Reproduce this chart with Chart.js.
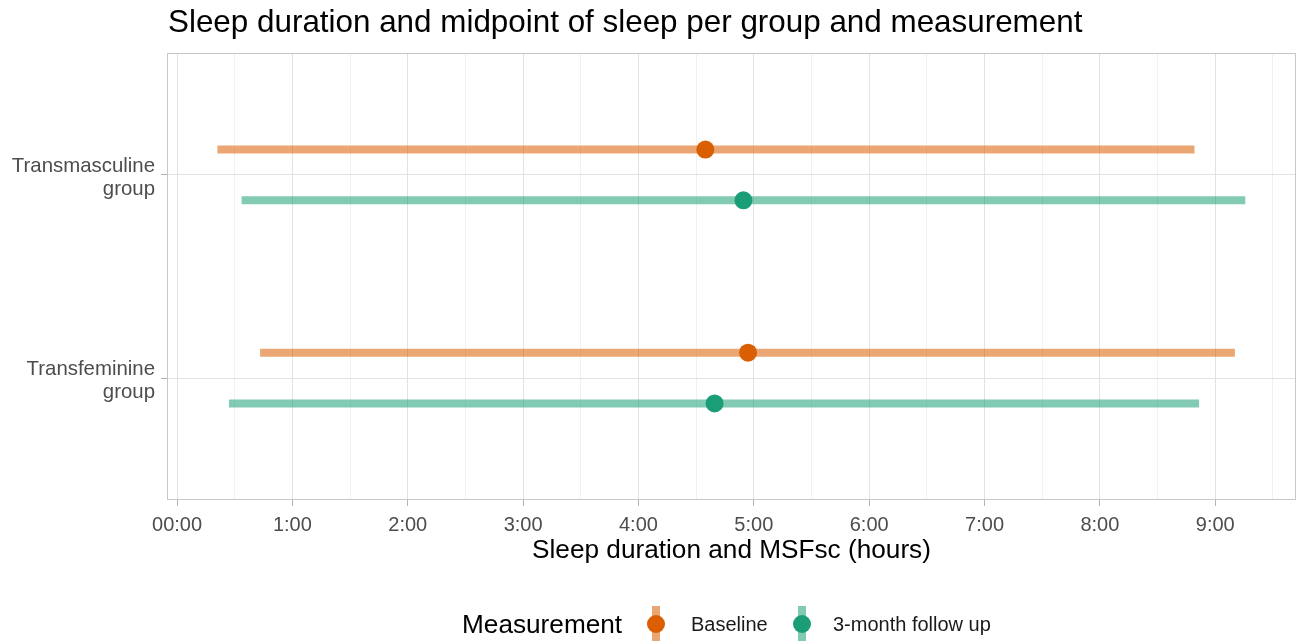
<!DOCTYPE html>
<html>
<head>
<meta charset="utf-8">
<script src="https://cdn.jsdelivr.net/npm/chart.js@4.4.1/dist/chart.umd.min.js"></script>
<style>
  html, body { margin: 0; padding: 0; background: #fff; }
  #wrap { width: 1300px; height: 641px; position: relative; }
</style>
</head>
<body>
<div id="wrap"><canvas id="sleepChart"></canvas></div>
<script>
const ctx = document.getElementById('sleepChart').getContext('2d');

// values (hours)
const groups = ['Transmasculine group', 'Transfeminine group'];
const measurements = ['Baseline', '3-month follow up'];
const baselineStart = [0.35, 0.72];
const baselineEnd = [8.82, 9.17];
const baselineMid = [4.58, 4.95];
const followStart = [0.56, 0.45];
const followEnd = [9.26, 8.86];
const followMid = [4.91, 4.66];
const tickLabels = ['00:00', '1:00', '2:00', '3:00', '4:00', '5:00', '6:00', '7:00', '8:00', '9:00'];

const FONT = "'Liberation Sans', Arial, sans-serif";
const dotColors = ['#D95F02', '#1B9E77'];
const lineColors = ['rgba(217,95,2,0.55)', 'rgba(27,158,119,0.55)'];
const dodge = [-0.125, 0.125];

const starts = [baselineStart, followStart];
const ends = [baselineEnd, followEnd];
const mids = [baselineMid, followMid];

// one segment per group and measurement
const datasets = [];
measurements.forEach((m, mi) => {
  groups.forEach((g, gi) => {
    const y = gi + 1 + dodge[mi];
    datasets.push({
      label: m + ' ' + g,
      data: [{ x: starts[mi][gi], y: y }, { x: ends[mi][gi], y: y }],
      showLine: true,
      borderColor: lineColors[mi],
      borderWidth: 8,
      borderCapStyle: 'butt',
      pointRadius: 0,
      pointHoverRadius: 0,
      order: 2,
    });
  });
});
measurements.forEach((m, mi) => {
  datasets.push({
    label: m,
    data: groups.map((g, gi) => ({ x: mids[mi][gi], y: gi + 1 + dodge[mi] })),
    showLine: false,
    pointRadius: 9,
    pointHoverRadius: 9,
    pointBorderWidth: 0,
    pointBackgroundColor: dotColors[mi],
    order: 1,
  });
});

const decorations = {
  id: 'decorations',
  afterDraw(chart) {
    const c = chart.ctx;
    const a = chart.chartArea;
    c.save();
    // panel border
    c.strokeStyle = '#C8C8C8';
    c.lineWidth = 1;
    c.strokeRect(a.left + 0.5, a.top + 0.5, a.right - a.left - 1, a.bottom - a.top - 1);

    // title
    c.fillStyle = '#000';
    c.textAlign = 'left';
    c.textBaseline = 'alphabetic';
    c.font = '31.4px ' + FONT;
    c.fillText('Sleep duration and midpoint of sleep per group and measurement', a.left + 1, 32);

    // legend
    c.font = '26.2px ' + FONT;
    c.fillText('Measurement', 462, 633);
    const keyX = [656, 802];
    const textX = [691, 833];
    c.font = '20px ' + FONT;
    measurements.forEach((m, mi) => {
      c.fillStyle = lineColors[mi];
      c.fillRect(keyX[mi] - 4, 606, 8, 35);
      c.fillStyle = dotColors[mi];
      c.beginPath();
      c.arc(keyX[mi], 624, 9, 0, Math.PI * 2);
      c.fill();
      c.fillStyle = '#1A1A1A';
      c.fillText(m, textX[mi], 631);
    });
    c.restore();
  }
};

const config = {
  type: 'scatter',
  data: { datasets },
  options: {
    responsive: true,
    maintainAspectRatio: false,
    animation: false,
    layout: { autoPadding: false, padding: { left: 0, right: 4, top: 53, bottom: 75 } },
    plugins: {
      legend: { display: false },
      tooltip: { enabled: false },
    },
    scales: {
      x: {
        type: 'linear',
        min: -0.087,
        max: 9.70,
        afterBuildTicks: (scale) => {
          const t = [];
          for (let v = 0; v <= 9.5; v += 0.5) t.push({ value: v });
          scale.ticks = t;
        },
        afterFit: (scale) => {
          scale.height = 66;
          scale.paddingLeft = 0;
          scale.paddingRight = 0;
        },
        ticks: {
          autoSkip: false,
          maxRotation: 0,
          padding: 7,
          color: '#4D4D4D',
          font: { family: FONT, size: 20 },
          callback: (value) => (value % 1 === 0 ? tickLabels[value] : ''),
        },
        grid: {
          color: (c) => (c.tick && c.tick.value % 1 === 0 ? '#E2E2E2' : '#F1F1F1'),
          tickColor: (c) => (c.tick && c.tick.value % 1 === 0 ? '#B3B3B3' : 'rgba(0,0,0,0)'),
          tickLength: 6,
        },
        border: { display: false },
        title: {
          display: true,
          text: 'Sleep duration and MSFsc (hours)',
          color: '#000',
          font: { family: FONT, size: 26.2 },
          padding: { top: 0, bottom: 0 },
        },
      },
      y: {
        type: 'linear',
        reverse: true,
        min: 0.4,
        max: 2.6,
        afterBuildTicks: (scale) => {
          scale.ticks = groups.map((g, gi) => ({ value: gi + 1 }));
        },
        afterFit: (scale) => { scale.width = 167; },
        ticks: {
          padding: 6,
          labelOffset: 3,
          color: '#4D4D4D',
          font: { family: FONT, size: 20.4, lineHeight: 1.15 },
          callback: (value) => groups[value - 1].split(' '),
        },
        grid: {
          color: '#E2E2E2',
          tickColor: '#B3B3B3',
          tickLength: 6,
        },
        border: { display: false },
      },
    },
  },
  plugins: [decorations],
};

const sleepChart = new Chart(ctx, config);
</script>
</body>
</html>
